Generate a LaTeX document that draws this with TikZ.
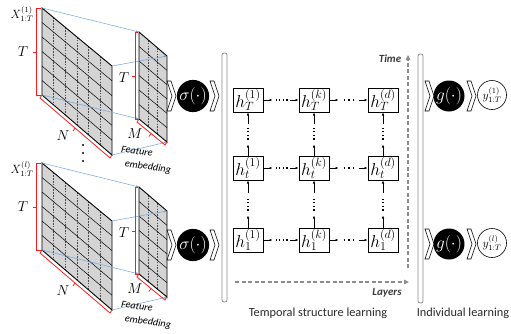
\documentclass[tikz,border=0pt]{standalone}
\usepackage{fontspec}
\setsansfont{Carlito}
\usetikzlibrary{calc,arrows.meta}
\definecolor{CGrid}{HTML}{D4D4D4}
\definecolor{CDot}{HTML}{4A4A4A}
\definecolor{CRed}{HTML}{FF1A1A}
\definecolor{CBlue}{HTML}{6FA3DC}
\definecolor{CAxis}{HTML}{8C8C8C}
\definecolor{CText}{HTML}{3A3A3A}
\definecolor{CBar}{HTML}{8A8A8A}

\tikzset{
  hbox/.style={draw, line width=1pt, fill=white, minimum width=30pt, minimum height=24pt, inner sep=0pt, font=\LARGE},
  actnode/.style={circle, fill=black, text=white, minimum size=31pt, inner sep=0pt, font=\LARGE},
  outnode/.style={circle, draw, line width=0.6pt, fill=white, minimum size=29pt, inner sep=0pt, font=\large},
  flow/.style={-{Latex[length=3pt,width=2.6pt]}, line width=0.6pt},
  vdots/.style={line width=1.2pt, dash pattern=on 1.2pt off 2.4pt},
  sdots/.style={line width=1.2pt, dash pattern=on 1.2pt off 3.6pt},
  griddash/.style={CDot, line width=0.45pt, dash pattern=on 1.6pt off 1.2pt},
  axis/.style={CAxis, line width=1.3pt, dash pattern=on 4pt off 2.5pt, -{Triangle[length=5pt,width=4.5pt]}},
  embline/.style={CBlue, line width=0.5pt, -{Latex[length=3pt,width=2pt]}},
  bracket/.style={CRed, line width=0.8pt},
  sidebar/.style={draw=CBar, line width=0.8pt, fill=white, rounded corners=2pt, minimum width=5pt, minimum height=249pt, inner sep=0pt},
  caption/.style={font=\sffamily\fontsize{12.3}{14}\selectfont, text=CText!70!black},
  axislab/.style={font=\sffamily\bfseries\itshape\fontsize{11}{13}\selectfont, text=CText},
  emblab/.style={font=\sffamily\itshape\fontsize{10.2}{11}\selectfont, rotate=-8, inner sep=0pt},
  chevron/.pic={\draw[fill=white, line width=0.6pt] (-5,-15) -- (-1,-15) -- (4,0) -- (-1,15) -- (-5,15) -- (0,0) -- cycle;}
}

\begin{document}
\begin{tikzpicture}[x=1pt, y=-1pt]
  \useasboundingbox (0,0) rectangle (511,333);

  % ============================================
  % INPUT MATRICES + FEATURE EMBEDDING (two individuals)
  % ============================================
  \foreach \gy/\gl in {0/1, 155/l} {
  \begin{scope}[shift={(0,\gy)}]
    % Big matrix (T x N)
    \coordinate (bA) at (42,8);
    \coordinate (bB) at (112,66);
    \coordinate (bC) at (112,155);
    \coordinate (bD) at (42,95);
    \fill[CGrid] (bA) -- (bB) -- (bC) -- (bD) -- cycle;
    \foreach \i in {1,...,5} {
      \draw[griddash] ($(bA)!{\i/6}!(bB)$) -- ($(bD)!{\i/6}!(bC)$);
      \draw[black, line width=0.5pt] ($(bA)!{\i/6}!(bD)$) -- ($(bB)!{\i/6}!(bC)$);
    }
    \draw[line width=0.9pt] (bA) -- (bB) -- (bC) -- (bD) -- cycle;

    % Small matrix (T x M)
    \coordinate (sA) at (139,32);
    \coordinate (sB) at (167,56);
    \coordinate (sC) at (167,142);
    \coordinate (sD) at (139,119);
    \fill[CGrid] (sA) -- (sB) -- (sC) -- (sD) -- cycle;
    \foreach \i in {1,2} {
      \draw[griddash] ($(sA)!{\i/3}!(sB)$) -- ($(sD)!{\i/3}!(sC)$);
    }
    \foreach \i in {1,...,5} {
      \draw[black, line width=0.5pt] ($(sA)!{\i/6}!(sD)$) -- ($(sB)!{\i/6}!(sC)$);
    }
    \draw[line width=0.9pt] (sA) -- (sB) -- (sC) -- (sD) -- cycle;

    % Projection lines
    \draw[embline] (bA) -- (sA);
    \draw[embline] (bB) -- (sB);
    \draw[embline] (bD) -- (sD);
    \draw[embline] (bC) -- (sC);

    % Red dimension brackets
    \draw[bracket] (41,8) -- (36,8) -- (36,95) -- (41,95);
    \draw[bracket] (36,52) -- (33,52);
    \draw[bracket] (bD) -- ($(bD)+(-2,3)$) -- ($(bC)+(-2,3)$) -- (bC);
    \draw[bracket] ($(bD)!0.5!(bC)+(-2,3)$) -- ++(-2,3);
    \draw[bracket] (138,32) -- (135,32) -- (135,119) -- (138,119);
    \draw[bracket] (135,76) -- (132,76);
    \draw[bracket] (sD) -- ($(sD)+(-2,3)$) -- ($(sC)+(-2,3)$) -- (sC);
    \draw[bracket] ($(sD)!0.5!(sC)+(-2,3)$) -- ++(-2,3);

    % Labels
    \node[font=\large, inner sep=0pt] (xlab\gl) at (22,14) {$X_{1:T}^{(\gl)}$};
    \node[font=\Large, inner sep=1pt] (tbig\gl) at (23,52) {$T$};
    \node[font=\Large, inner sep=1pt] (nlab\gl) at (63,136) {$N$};
    \node[font=\Large, inner sep=1pt] (tsmall\gl) at (124,78) {$T$};
    \node[font=\Large, inner sep=1pt] (mlab\gl) at (135,134) {$M$};
    \node[emblab] (feat\gl) at (137,151) {Feature};
    \node[emblab] (emb\gl) at (148,167) {embedding};
  \end{scope}
  }
  % dots between the two individuals
  \foreach \dy in {145,153,161} {
    \fill (83,\dy) circle (1.1pt);
  }

  % ============================================
  % ACTIVATION sigma
  % ============================================
  \pic at (172,96) {chevron};
  \node[actnode] (sig1) at (193,96) {$\sigma(\cdot)$};
  \pic at (215,96) {chevron};
  \pic at (172,245) {chevron};
  \node[actnode] (sigl) at (193,245) {$\sigma(\cdot)$};
  \pic at (215,245) {chevron};

  \node[sidebar] (bar1) at (224.5,177.5) {};

  % ============================================
  % TEMPORAL STRUCTURE LEARNING: grid of hidden states
  % ============================================
  \foreach \c/\x in {1/248, k/314, d/383} {
    \node[hbox] (hT\c) at (\x,100) {$h_T^{(\c)}$};
    \node[hbox] (ht\c) at (\x,168) {$h_t^{(\c)}$};
    \node[hbox] (h1\c) at (\x,240) {$h_1^{(\c)}$};
    % upward connections
    \draw[flow] (h1\c.north) -- ++(0,-12);
    \draw[vdots] ($(h1\c.north)+(0,-17)$) -- ($(ht\c.south)+(0,16)$);
    \draw[flow] ($(ht\c.south)+(0,12)$) -- (ht\c.south);
    \draw[flow] (ht\c.north) -- ++(0,-11);
    \draw[vdots] ($(ht\c.north)+(0,-16)$) -- ($(hT\c.south)+(0,15)$);
    \draw[flow] ($(hT\c.south)+(0,11)$) -- (hT\c.south);
  }
  % layer-to-layer connections
  \foreach \r in {T, t, 1} {
    \draw[flow] (h\r1.east) -- ++(9,0);
    \draw[vdots] ($(h\r1.east)+(12,0)$) -- ($(h\r k.west)+(-11,0)$);
    \draw[flow] ($(h\r k.west)+(-9,0)$) -- (h\r k.west);
    \draw[flow] (h\r k.east) -- ++(9,0);
    \draw[sdots] ($(h\r k.east)+(14,0)$) -- ($(h\r d.west)+(-11,0)$);
    \draw[flow] ($(h\r d.west)+(-9,0)$) -- (h\r d.west);
  }

  % Time / Layers axes
  \coordinate (tbot) at (408,268);
  \coordinate (ttop) at (408,55);
  \draw[axis] (tbot) -- (ttop);
  \node[axislab] (timelab) at (390,59) {Time};
  \coordinate (lbeg) at (235,282);
  \coordinate (lend) at (409,282);
  \draw[axis] (lbeg) -- (lend);
  \node[axislab] (layerlab) at (387,293) {Layers};

  \node[sidebar] (bar2) at (420.5,178.5) {};

  % ============================================
  % INDIVIDUAL LEARNING
  % ============================================
  \pic at (430,96) {chevron};
  \node[actnode] (g1) at (449,96) {$g(\cdot)$};
  \pic at (472,96) {chevron};
  \node[outnode] (y1) at (492,95) {$y_{1:T}^{(1)}$};
  \pic at (430,244) {chevron};
  \node[actnode] (gl) at (449,244) {$g(\cdot)$};
  \pic at (472,244) {chevron};
  \node[outnode] (yl) at (492,243) {$y_{1:T}^{(l)}$};

  % Captions
  \node[caption] (cap1) at (318,313) {Temporal structure learning};
  \node[caption, inner sep=1pt] (cap2) at (463,313) {Individual learning};

\end{tikzpicture}
\end{document}
